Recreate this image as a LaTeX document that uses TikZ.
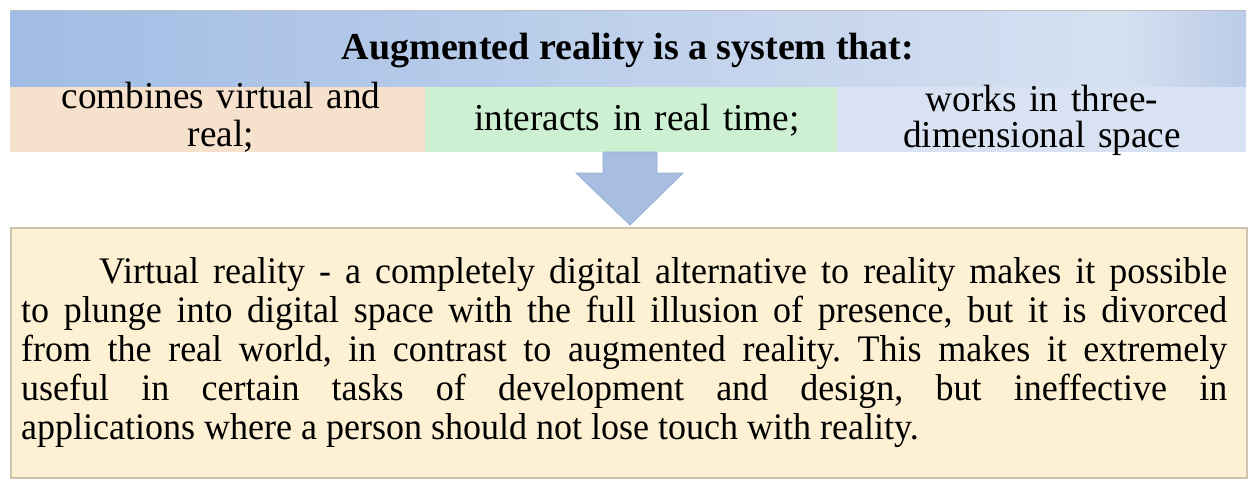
\documentclass[tikz,border=0pt]{standalone}
\usepackage{fontspec}
\setmainfont{Liberation Serif}
\newfontfamily\bodyfont[FakeStretch=0.96]{Liberation Serif}
\newfontfamily\cellfont[FakeStretch=0.98]{Liberation Serif}
\definecolor{bandL}{RGB}{161,188,228}
\definecolor{bandM}{RGB}{214,225,241}
\definecolor{bandR}{RGB}{186,204,232}
\definecolor{cellTan}{RGB}{246,226,204}
\definecolor{cellGreen}{RGB}{205,240,210}
\definecolor{cellBlue}{RGB}{216,226,242}
\definecolor{arrowFill}{RGB}{168,190,224}
\definecolor{arrowLine}{RGB}{150,174,214}
\definecolor{bodyFill}{RGB}{253,240,211}
\definecolor{bodyLine}{RGB}{205,196,176}
\begin{document}
\begin{tikzpicture}[x=1pt,y=-1pt,
  celltext/.style={inner sep=0pt,anchor=base,align=center,text width=400pt,
    font=\cellfont\fontsize{38}{38}\selectfont},
  cellbox/.style={draw=none,inner sep=0pt,anchor=north west,minimum height=65pt}]
\useasboundingbox (0,0) rectangle (1249,479);
% title band
\shade[left color=bandL,right color=bandM] (10,10) rectangle (1120,87);
\shade[left color=bandM,right color=bandR] (1119.5,10) rectangle (1246,87);
\draw[black!25,line width=1pt] (10,10) -- (1246,10);
\node[inner sep=0pt,anchor=base,font=\fontsize{38}{40}\selectfont\bfseries] (title) at (628,59) {Augmented reality is a system that:};
% cells
\node[cellbox,fill=cellTan,minimum width=415pt] (c1) at (10,87) {};
\node[cellbox,fill=cellGreen,minimum width=412pt] (c2) at (425,87) {};
\node[cellbox,fill=cellBlue,minimum width=409pt] (c3) at (837,87) {};
\node[celltext] (t1) at (221,108) {combines virtual and\\real;};
\node[celltext] (t2) at (637,130) {interacts in real time;};
\node[celltext,font=\cellfont\fontsize{38}{36}\selectfont] (t3) at (1042,111) {works in three-\\dimensional space};
% body box
\node[draw=bodyLine,fill=bodyFill,line width=1.5pt,inner sep=0pt,anchor=north west,
  minimum width=1236pt,minimum height=250pt] (body) at (10,227) {};
% arrow
\coordinate (atop) at (630,152);
\coordinate (atip) at (630,225);
\fill[arrowFill,draw=arrowLine,line width=0.8pt]
  ([xshift=-27pt]atop) -- ([xshift=27pt]atop) -- ([xshift=27pt,yshift=-21pt]atop)
  -- ([xshift=53pt,yshift=-21pt]atop) -- (atip) -- ([xshift=-54pt,yshift=-21pt]atop)
  -- ([xshift=-27pt,yshift=-21pt]atop) -- cycle;
% body text
\node[inner sep=0pt,anchor=base west,text width=1206pt,align=justify,
  font=\bodyfont\fontsize{37.5}{39}\selectfont] (bodytext) at (21,283)
{\frenchspacing\parindent=78pt\hyphenpenalty=10000\exhyphenpenalty=10000\emergencystretch=20pt\indent Virtual reality - a completely digital alternative to reality makes it possible\linebreak
to plunge into digital space with the full illusion of presence, but it is divorced\linebreak
from the real world, in contrast to augmented reality. This makes it extremely\linebreak
useful in certain tasks of development and design, but ineffective in\linebreak
applications where a person should not lose touch with reality.\par};
\end{tikzpicture}
\end{document}
